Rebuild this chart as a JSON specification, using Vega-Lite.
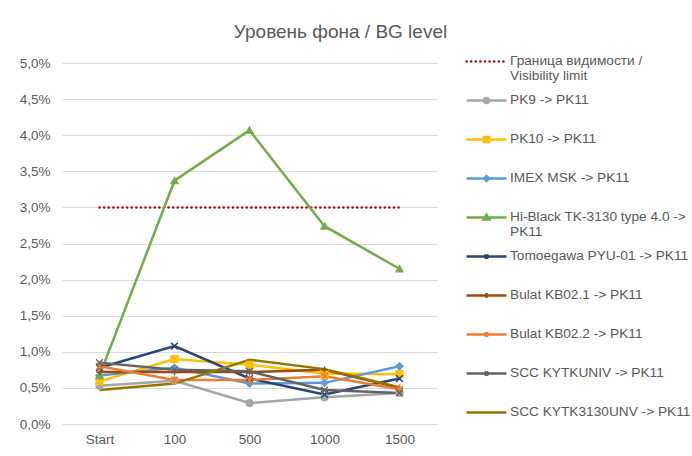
{
  "$schema": "https://vega.github.io/schema/vega-lite/v6.json",
  "autosize": "none",
  "width": 375,
  "height": 361,
  "padding": {"left": 62, "top": 63, "right": 255, "bottom": 32},
  "background": "white",
  "title": {
    "text": "Уровень фона / BG level",
    "fontSize": 19,
    "font": "Liberation Sans",
    "fontWeight": "normal",
    "color": "#595959",
    "anchor": "middle",
    "frame": "group",
    "dx": 91,
    "offset": 3
  },
  "config": {
    "font": "Liberation Sans",
    "view": {"stroke": null},
    "axis": {"labelColor": "#595959", "labelFontSize": 13.5, "titleColor": "#595959"}
  },
  "data": {
    "values": [
      {"series": "Граница видимости / Visibility limit", "step": "Start", "value": 0.03},
      {"series": "Граница видимости / Visibility limit", "step": "100", "value": 0.03},
      {"series": "Граница видимости / Visibility limit", "step": "500", "value": 0.03},
      {"series": "Граница видимости / Visibility limit", "step": "1000", "value": 0.03},
      {"series": "Граница видимости / Visibility limit", "step": "1500", "value": 0.03},
      {"series": "PK9 -> PK11", "step": "Start", "value": 0.0053},
      {"series": "PK9 -> PK11", "step": "100", "value": 0.006},
      {"series": "PK9 -> PK11", "step": "500", "value": 0.0029},
      {"series": "PK9 -> PK11", "step": "1000", "value": 0.0037},
      {"series": "PK9 -> PK11", "step": "1500", "value": 0.0043},
      {"series": "PK10 -> PK11", "step": "Start", "value": 0.0059},
      {"series": "PK10 -> PK11", "step": "100", "value": 0.009},
      {"series": "PK10 -> PK11", "step": "500", "value": 0.0082},
      {"series": "PK10 -> PK11", "step": "1000", "value": 0.007},
      {"series": "PK10 -> PK11", "step": "1500", "value": 0.0069},
      {"series": "IMEX MSK -> PK11", "step": "Start", "value": 0.0067},
      {"series": "IMEX MSK -> PK11", "step": "100", "value": 0.0078},
      {"series": "IMEX MSK -> PK11", "step": "500", "value": 0.0056},
      {"series": "IMEX MSK -> PK11", "step": "1000", "value": 0.0057},
      {"series": "IMEX MSK -> PK11", "step": "1500", "value": 0.008},
      {"series": "Hi-Black TK-3130 type 4.0 -> PK11", "step": "Start", "value": 0.0067},
      {"series": "Hi-Black TK-3130 type 4.0 -> PK11", "step": "100", "value": 0.0337},
      {"series": "Hi-Black TK-3130 type 4.0 -> PK11", "step": "500", "value": 0.0407},
      {"series": "Hi-Black TK-3130 type 4.0 -> PK11", "step": "1000", "value": 0.0274},
      {"series": "Hi-Black TK-3130 type 4.0 -> PK11", "step": "1500", "value": 0.0215},
      {"series": "Tomoegawa PYU-01 -> PK11", "step": "Start", "value": 0.0078},
      {"series": "Tomoegawa PYU-01 -> PK11", "step": "100", "value": 0.0108},
      {"series": "Tomoegawa PYU-01 -> PK11", "step": "500", "value": 0.0063},
      {"series": "Tomoegawa PYU-01 -> PK11", "step": "1000", "value": 0.0041},
      {"series": "Tomoegawa PYU-01 -> PK11", "step": "1500", "value": 0.0063},
      {"series": "Bulat KB02.1 -> PK11", "step": "Start", "value": 0.0072},
      {"series": "Bulat KB02.1 -> PK11", "step": "100", "value": 0.0072},
      {"series": "Bulat KB02.1 -> PK11", "step": "500", "value": 0.0072},
      {"series": "Bulat KB02.1 -> PK11", "step": "1000", "value": 0.0075},
      {"series": "Bulat KB02.1 -> PK11", "step": "1500", "value": 0.005},
      {"series": "Bulat KB02.2 -> PK11", "step": "Start", "value": 0.008},
      {"series": "Bulat KB02.2 -> PK11", "step": "100", "value": 0.0061},
      {"series": "Bulat KB02.2 -> PK11", "step": "500", "value": 0.0061},
      {"series": "Bulat KB02.2 -> PK11", "step": "1000", "value": 0.0066},
      {"series": "Bulat KB02.2 -> PK11", "step": "1500", "value": 0.0048},
      {"series": "SCC KYTKUNIV -> PK11", "step": "Start", "value": 0.0085},
      {"series": "SCC KYTKUNIV -> PK11", "step": "100", "value": 0.0075},
      {"series": "SCC KYTKUNIV -> PK11", "step": "500", "value": 0.0073},
      {"series": "SCC KYTKUNIV -> PK11", "step": "1000", "value": 0.0047},
      {"series": "SCC KYTKUNIV -> PK11", "step": "1500", "value": 0.0043},
      {"series": "SCC KYTK3130UNV -> PK11", "step": "Start", "value": 0.0047},
      {"series": "SCC KYTK3130UNV -> PK11", "step": "100", "value": 0.0056},
      {"series": "SCC KYTK3130UNV -> PK11", "step": "500", "value": 0.0089},
      {"series": "SCC KYTK3130UNV -> PK11", "step": "1000", "value": 0.0076},
      {"series": "SCC KYTK3130UNV -> PK11", "step": "1500", "value": 0.0051}
    ]
  },
  "encoding": {
    "x": {
      "field": "step", "type": "ordinal",
      "sort": ["Start", "100", "500", "1000", "1500"],
      "scale": {"paddingInner": 0, "paddingOuter": 0.5},
      "axis": {"title": null, "labelAngle": 0, "ticks": false, "domainColor": "#D9D9D9", "labelPadding": 8, "grid": false}
    },
    "y": {
      "field": "value", "type": "quantitative",
      "scale": {"domain": [0, 0.05], "nice": false},
      "axis": {"title": null, "format": ".1%", "labelExpr": "replace(datum.label, '.', ',')", "values": [0, 0.005, 0.01, 0.015, 0.02, 0.025, 0.03, 0.035, 0.04, 0.045, 0.05], "labelOverlap": false, "labelFlush": false, "ticks": false, "domain": false, "gridColor": "#D9D9D9", "labelPadding": 12}
    },
    "color": {
      "field": "series", "type": "nominal",
      "scale": {
        "domain": ["Граница видимости / Visibility limit", "PK9 -> PK11", "PK10 -> PK11", "IMEX MSK -> PK11", "Hi-Black TK-3130 type 4.0 -> PK11", "Tomoegawa PYU-01 -> PK11", "Bulat KB02.1 -> PK11", "Bulat KB02.2 -> PK11", "SCC KYTKUNIV -> PK11", "SCC KYTK3130UNV -> PK11"],
        "range": ["#C00000", "#A5A5A5", "#FFC000", "#5B9BD5", "#70AD47", "#264478", "#9E480E", "#ED7D31", "#636363", "#997300"]
      },
      "legend": {
        "title": null,
        "orient": "none",
        "legendX": 408,
        "legendY": -18,
        "symbolSize": 900,
        "symbolType": "stroke",
        "symbolStrokeWidth": 2.5,
        "labelFontSize": 13.7,
        "labelColor": "#595959",
        "labelLimit": 300,
        "labelOffset": 7,
        "rowPadding": 1,
        "labelBaseline": "top",
        "labelExpr": "datum.label == 'Граница видимости / Visibility limit' ? ['Граница видимости /', 'Visibility limit'] : datum.label == 'Hi-Black TK-3130 type 4.0 -> PK11' ? ['Hi-Black TK-3130 type 4.0 ->', 'PK11'] : [datum.label, ' ']",
        "encode": {
          "labels": {"update": {"dy": {"value": -8}, "lineHeight": {"value": 15}}},
          "symbols": {
            "update": {
              "shape": {"signal": "datum.value == 'PK9 -> PK11' ? 'M-1.33,0H-0.16A0.16,0.16 0 1,1 0.16,0H1.33M0.16,0A0.16,0.16 0 1,1 -0.16,0Z' : datum.value == 'PK10 -> PK11' ? 'M-1.33,0H1.33M-0.17,-0.17H0.17V0.17H-0.17Z' : datum.value == 'IMEX MSK -> PK11' ? 'M-1.33,0H1.33M0,-0.16L0.16,0L0,0.16L-0.16,0Z' : datum.value == 'Hi-Black TK-3130 type 4.0 -> PK11' ? 'M-1.33,0H1.33M0,-0.19L0.19,0.13L-0.19,0.13Z' : datum.value == 'Tomoegawa PYU-01 -> PK11' || datum.value == 'SCC KYTKUNIV -> PK11' ? 'M-1.33,0H1.33M-0.13,-0.13L0.13,0.13M-0.13,0.13L0.13,-0.13' : datum.value == 'Bulat KB02.1 -> PK11' ? 'M-1.33,0H1.33M0,-0.17V0.17' : datum.value == 'Bulat KB02.2 -> PK11' ? 'M-1.33,0H1.33M-0.13,-0.13L0.13,0.13M-0.13,0.13L0.13,-0.13M0,-0.17V0.17' : 'M-1.33,0H1.33'"},
              "fill": {"signal": "scale('color', datum.value)"},
              "fillOpacity": {"value": 1},
              "strokeDash": {"signal": "datum.value == 'Граница видимости / Visibility limit' ? [0.1, 4.5] : []"},
              "strokeCap": {"signal": "datum.value == 'Граница видимости / Visibility limit' ? 'round' : 'butt'"},
              "strokeWidth": {"value": 2.5}
            }
          }
        }
      }
    }
  },
  "layer": [
    {
      "transform": [{"filter": "datum.series == 'Граница видимости / Visibility limit'"}],
      "mark": {"type": "line", "strokeWidth": 2.5, "strokeDash": [0.1, 4.5], "strokeCap": "round"}
    },
    {
      "transform": [{"filter": "datum.series != 'Граница видимости / Visibility limit'"}],
      "mark": {"type": "line", "strokeWidth": 2.5}
    },
    {
      "transform": [{"filter": "datum.series != 'Граница видимости / Visibility limit' && datum.series != 'SCC KYTK3130UNV -> PK11'"}],
      "mark": {"type": "point", "filled": true, "size": 45, "strokeWidth": 1.5, "opacity": 1},
      "encoding": {
        "shape": {
          "field": "series", "type": "nominal",
          "scale": {
            "domain": ["PK9 -> PK11", "PK10 -> PK11", "IMEX MSK -> PK11", "Hi-Black TK-3130 type 4.0 -> PK11", "Tomoegawa PYU-01 -> PK11", "Bulat KB02.1 -> PK11", "Bulat KB02.2 -> PK11", "SCC KYTKUNIV -> PK11"],
            "range": ["circle", "square", "diamond", "triangle-up", "M-1,-1L1,1M-1,1L1,-1", "M-1,0H1M0,-1V1", "M-1,-1L1,1M-1,1L1,-1M0,-1.3V1.3", "M-1,-1L1,1M-1,1L1,-1"]
          },
          "legend": null
        },
        "stroke": {"field": "series", "type": "nominal", "scale": {"domain": ["PK9 -> PK11", "PK10 -> PK11", "IMEX MSK -> PK11", "Hi-Black TK-3130 type 4.0 -> PK11", "Tomoegawa PYU-01 -> PK11", "Bulat KB02.1 -> PK11", "Bulat KB02.2 -> PK11", "SCC KYTKUNIV -> PK11"], "range": ["#A5A5A5", "#FFC000", "#5B9BD5", "#70AD47", "#264478", "#9E480E", "#ED7D31", "#636363"]}, "legend": null}
      }
    }
  ]
}
